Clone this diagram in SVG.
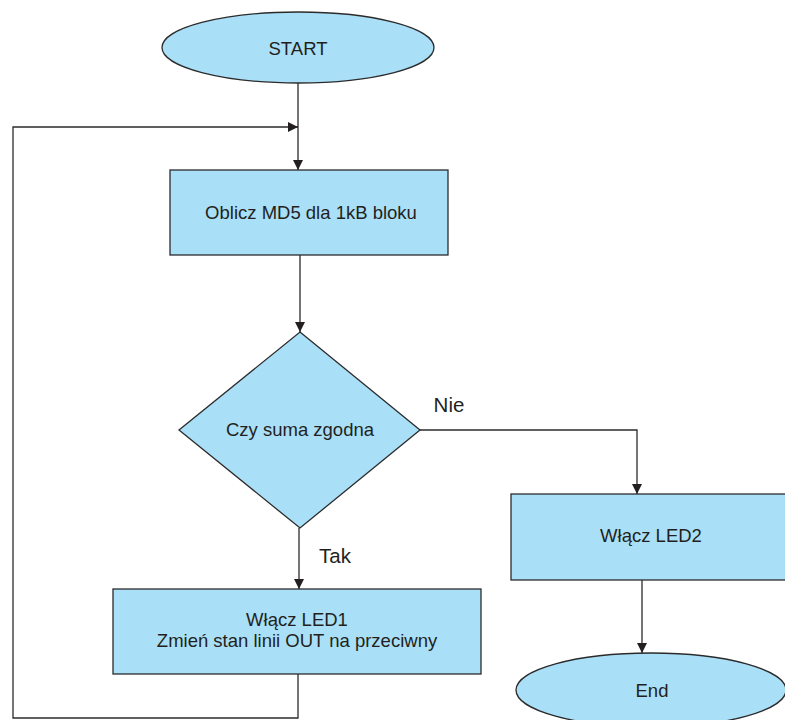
<svg xmlns="http://www.w3.org/2000/svg" width="785" height="720" viewBox="0 0 785 720">
<style>
.shape{fill:#aadff8;stroke:#2b2b2b;stroke-width:1.3}
.line{fill:none;stroke:#2b2b2b;stroke-width:1.3}
.t{font-family:"Liberation Sans",Arial,sans-serif;font-size:18.5px;fill:#231f20;text-anchor:middle}
.lbl{font-family:"Liberation Sans",Arial,sans-serif;font-size:20.5px;fill:#231f20;text-anchor:middle}
</style>
<defs>
<marker id="arr" viewBox="0 0 10 10" refX="10" refY="5" markerWidth="10" markerHeight="10" markerUnits="userSpaceOnUse" orient="auto">
<path d="M0,0 L10,5 L0,10 Z" fill="#231f20"/>
</marker>
</defs>
<rect width="785" height="720" fill="#ffffff"/>
<g id="connectors">
<path class="line" d="M298,83 V170" marker-end="url(#arr)"/>
<path class="line" d="M298,674 V718 H13 V127 H298" marker-end="url(#arr)"/>
<path class="line" d="M300,255 V332" marker-end="url(#arr)"/>
<path class="line" d="M420,430 H637 V494" marker-end="url(#arr)"/>
<path class="line" d="M299,528 V589" marker-end="url(#arr)"/>
<path class="line" d="M642,580 V653" marker-end="url(#arr)"/>
<text class="lbl" x="449" y="412">Nie</text>
<text class="lbl" x="335" y="563">Tak</text>
</g>
<g id="start">
<ellipse class="shape" cx="298" cy="47.5" rx="136" ry="35.5"/>
<text class="t" x="298" y="55">START</text>
</g>
<g id="md5">
<rect class="shape" x="170" y="170" width="278" height="85"/>
<text class="t" x="311" y="219">Oblicz MD5 dla 1kB bloku</text>
</g>
<g id="decision">
<polygon class="shape" points="300,332 420,430 300,528 179,430"/>
<text class="t" x="300" y="436">Czy suma zgodna</text>
</g>
<g id="led1">
<rect class="shape" x="113" y="589" width="368" height="85"/>
<text class="t" x="297" y="626">Włącz LED1</text>
<text class="t" x="297" y="647">Zmień stan linii OUT na przeciwny</text>
</g>
<g id="led2">
<rect class="shape" x="511" y="494" width="280" height="86"/>
<text class="t" x="651" y="542">Włącz LED2</text>
</g>
<g id="end">
<ellipse class="shape" cx="651" cy="690" rx="135" ry="37"/>
<text class="t" x="652" y="697">End</text>
</g>
</svg>
